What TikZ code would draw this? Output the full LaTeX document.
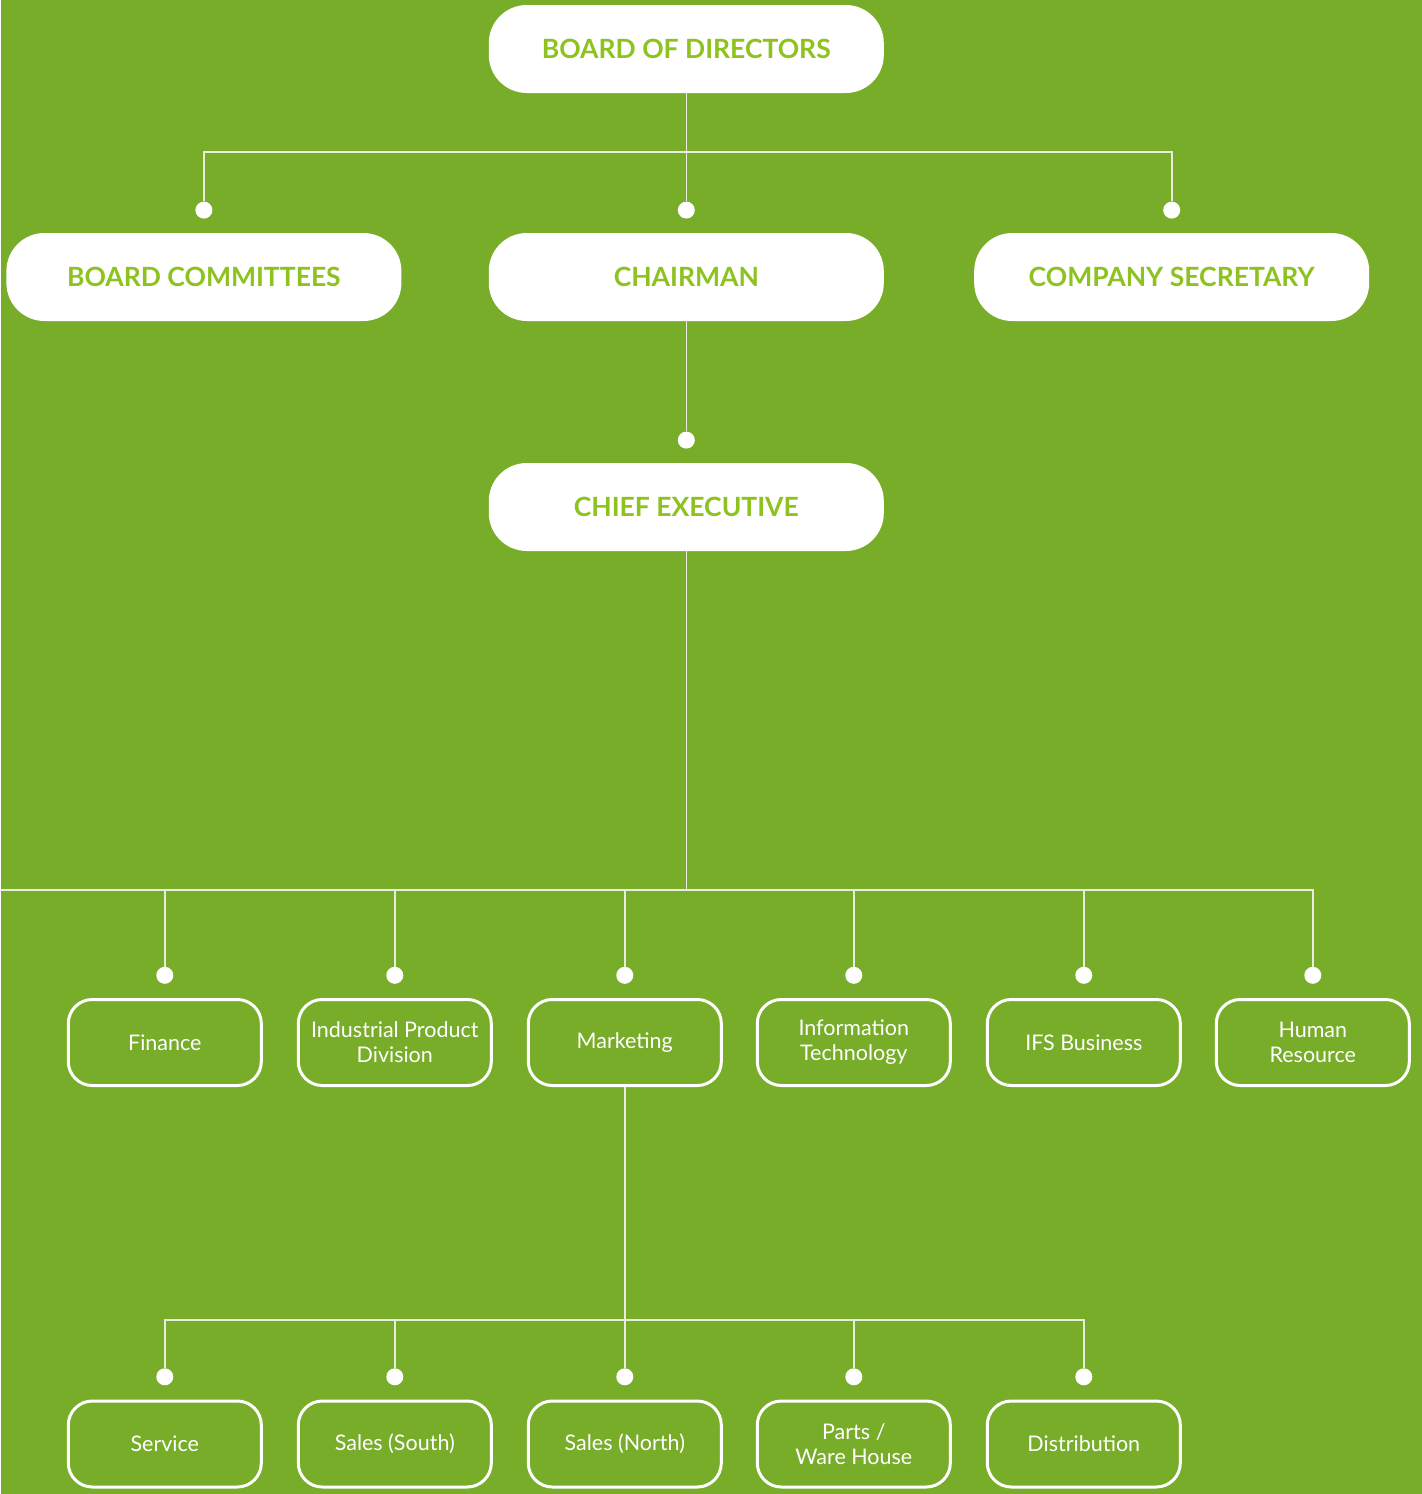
\documentclass[tikz,border=0pt]{standalone}
\usepackage{fontspec}
\setmainfont{Lato}
\usetikzlibrary{positioning}

\definecolor{grass}{HTML}{78AD2A}
\definecolor{leaf}{HTML}{8DC21F}
\definecolor{wirecol}{HTML}{E8EDDC}

\begin{document}
\begin{tikzpicture}[x=1pt,y=-1pt,
                    wire/.style={draw=wirecol,line width=1.6pt}]
  \tikzstyle{head}=[fill=white,rounded corners=38pt,minimum width=395pt,
                    minimum height=88pt,inner sep=0pt,text=leaf,
                    font=\fontsize{26.5}{30}\selectfont\bfseries]
  \tikzstyle{unit}=[draw=white,line width=3pt,rounded corners=24pt,
                    minimum width=193pt,minimum height=86pt,inner sep=0pt,
                    align=center,text=white,font=\fontsize{21.5}{25}\selectfont]
  \tikzstyle{dot}=[circle,fill=white,inner sep=0pt,minimum size=17pt]

  \fill[grass] (0,0) rectangle (1421,1494);

  \node[head] (bod)   at (685.5,49)          {BOARD OF DIRECTORS};
  \node[head] (chair) at (685.5,277)         {CHAIRMAN};
  \node[head] (comm)  [left=87pt of chair]   {BOARD COMMITTEES};
  \node[head] (sec)   [right=90pt of chair]  {COMPANY SECRETARY};
  \node[head] (ceo)   at (685.5,507)         {CHIEF EXECUTIVE};

  \node[unit] (fin)  at (164,1042.5)    {Finance};
  \node[unit] (ipd)  [right=34pt of fin] {Industrial Product\\Division};
  \node[unit] (mkt)  [right=34pt of ipd] {Marketing};
  \node[unit] (it)   [right=33pt of mkt] {Information\\Technology};
  \node[unit] (ifs)  [right=34pt of it]  {IFS Business};
  \node[unit] (hr)   [right=33pt of ifs] {Human\\Resource};

  \node[unit] (svc)  at (164,1444)       {Service};
  \node[unit] (sth)  [right=34pt of svc] {Sales (South)};
  \node[unit] (nth)  [right=34pt of sth] {Sales (North)};
  \node[unit] (prt)  [right=33pt of nth] {Parts /\\Ware House};
  \node[unit] (dst)  [right=34pt of prt] {Distribution};

  \foreach \n in {comm,chair,sec,ceo,fin,ipd,mkt,it,ifs,hr,svc,sth,nth,prt,dst}
    \node[dot] (d-\n) [above=14pt of \n] {};

  \coordinate (bus1) at (685.5,152);
  \coordinate (bus2) at (0,890);
  \coordinate (bus3) at (164,1320);

  % board level
  \draw[wire] (bod) -- (d-chair);
  \draw[wire] (d-comm) |- (bus1) -| (d-sec);
  \draw[wire] (chair) -- (d-ceo);

  % departments
  \draw[wire] (ceo) -- (ceo |- bus2);
  \draw[wire] (bus2) -| (d-hr);
  \foreach \n in {fin,ipd,mkt,it,ifs}
    \draw[wire] (d-\n) -- (d-\n |- bus2);

  % marketing
  \draw[wire] (mkt) -- (mkt |- bus3);
  \draw[wire] (d-svc) |- (d-dst |- bus3) -- (d-dst);
  \foreach \n in {sth,nth,prt}
    \draw[wire] (d-\n) -- (d-\n |- bus3);
\end{tikzpicture}
\end{document}
